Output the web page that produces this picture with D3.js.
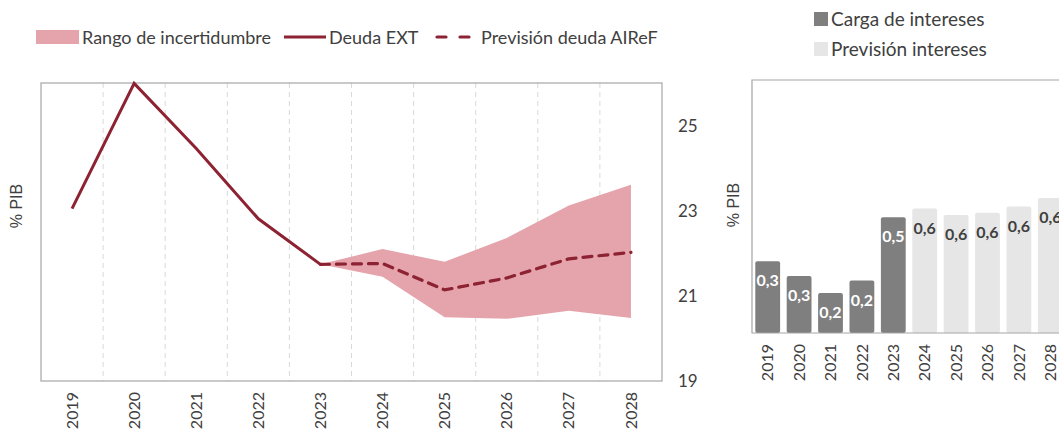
<!DOCTYPE html>
<html><head><meta charset="utf-8">
<script src="https://cdn.jsdelivr.net/npm/d3@7"></script>
<style>
body{margin:0;background:#fff;}
svg{display:block;}
text{font-family:Lato, "Open Sans", sans-serif;fill:#404040;}
</style></head>
<body><svg id="c" width="1059" height="433"></svg>
<script>
// ---- data ----
const years = ["2019","2020","2021","2022","2023","2024","2025","2026","2027","2028"];
const deudaYears = ["2019","2020","2021","2022","2023"];
const deudaEXT = [23.05, 25.99, 24.46, 22.81, 21.74];
const prevYears = ["2023","2024","2025","2026","2027","2028"];
const prevision = [21.74, 21.76, 21.14, 21.42, 21.87, 22.02];
const rangoAlto = [21.74, 22.10, 21.80, 22.36, 23.12, 23.61];
const rangoBajo = [21.74, 21.45, 20.50, 20.46, 20.65, 20.48];
const leftTicks = [19, 21, 23, 25];
const interesesYears = ["2019","2020","2021","2022","2023"];
const cargaIntereses = [0.34, 0.27, 0.19, 0.249, 0.549];
const prevInteresesYears = ["2024","2025","2026","2027","2028"];
const previsionIntereses = [0.59, 0.56, 0.57, 0.60, 0.64];

const svg = d3.select("#c");
const RED = "#8C2232", PINK = "#E5A3AB", DARK = "#7F7F7F", LIGHT = "#E6E6E6", BORDER = "#A6A6A6";

// ---------- LEFT CHART ----------
const L = {x0:41, x1:662, y0:83, y1:381};
const xL = d3.scaleBand().domain(years).range([L.x0, L.x1]);
const yL = d3.scaleLinear().domain([19, 26]).range([L.y1, L.y0]);
const cx = d => xL(d) + xL.bandwidth()/2;

// gridlines at band boundaries
const gl = svg.append("g");
years.slice(1).forEach(y => {
  gl.append("line").attr("x1", xL(y)).attr("x2", xL(y)).attr("y1", L.y0).attr("y2", L.y1)
    .attr("stroke", "#D9D9D9").attr("stroke-dasharray", "5,4").attr("stroke-width", 1);
});
svg.append("rect").attr("x", L.x0).attr("y", L.y0).attr("width", L.x1-L.x0).attr("height", L.y1-L.y0)
  .attr("fill", "none").attr("stroke", BORDER).attr("stroke-width", 1.2);

// band
const bandData = prevYears.map((y,i)=>({y, hi:rangoAlto[i], lo:rangoBajo[i]}));
svg.append("path").datum(bandData)
  .attr("d", d3.area().x(d=>cx(d.y)).y0(d=>yL(d.lo)).y1(d=>yL(d.hi)))
  .attr("fill", PINK);
// solid line
svg.append("path").datum(deudaYears.map((y,i)=>({y, v:deudaEXT[i]})))
  .attr("d", d3.line().x(d=>cx(d.y)).y(d=>yL(d.v)))
  .attr("fill","none").attr("stroke", RED).attr("stroke-width", 3);
// dashed line
svg.append("path").datum(prevYears.map((y,i)=>({y, v:prevision[i]})))
  .attr("d", d3.line().x(d=>cx(d.y)).y(d=>yL(d.v)))
  .attr("fill","none").attr("stroke", RED).attr("stroke-width", 3.2)
  .attr("stroke-dasharray","9,7").attr("stroke-linecap","round");

// right axis
const axR = svg.append("g").attr("transform", `translate(${L.x1},0)`)
  .call(d3.axisRight(yL).tickValues(leftTicks).tickFormat(d3.format("d")).tickSize(0).tickPadding(16));
axR.select(".domain").remove();
axR.selectAll("text").style("font-size","17px").style("font-family","Lato").attr("fill","#404040");

// x axis rotated
const axB = svg.append("g").attr("transform", `translate(0,${L.y1})`)
  .call(d3.axisBottom(xL).tickSize(0));
axB.select(".domain").remove();
axB.selectAll("text").style("font-size","16px").style("font-family","Lato").attr("fill","#404040")
  .attr("transform","rotate(-90)").attr("text-anchor","end").attr("x",-11).attr("y",0).attr("dy","0.35em");

svg.append("text").attr("transform","translate(22,206) rotate(-90)").attr("text-anchor","middle")
  .style("font-family","'Liberation Sans', Arial").style("font-size","16px").text("% PIB");

// legend left
const lg = svg.append("g").style("font-size","18px");
lg.append("rect").attr("x",36).attr("y",30).attr("width",43).attr("height",14).attr("fill",PINK);
lg.append("text").attr("x",82).attr("y",44).text("Rango de incertidumbre");
lg.append("line").attr("x1",284).attr("x2",326).attr("y1",37).attr("y2",37).attr("stroke",RED).attr("stroke-width",3);
lg.append("text").attr("x",329).attr("y",44).text("Deuda EXT");
lg.append("line").attr("x1",437).attr("x2",474).attr("y1",37).attr("y2",37).attr("stroke",RED).attr("stroke-width",3.2)
  .attr("stroke-dasharray","9,14").attr("stroke-linecap","round");
lg.append("text").attr("x",481).attr("y",44).text("Previsión deuda AIReF");

// ---------- RIGHT CHART ----------
const R = {x0:752, x1:1066, y0:80, y1:333};
const xR = d3.scaleBand().domain(years).range([R.x0, R.x1]).paddingInner(0.21).paddingOuter(0.105);
const yR = d3.scaleLinear().domain([0, 1.2]).range([R.y1, R.y0]);
const fmt = v => d3.format(".1f")(v).replace(".", ",");

const barsData = interesesYears.map((y,i)=>({y, v:cargaIntereses[i], c:DARK, t:"#fff"}))
  .concat(prevInteresesYears.map((y,i)=>({y, v:previsionIntereses[i], c:LIGHT, t:"#404040"})));
const bg = svg.append("g");
bg.selectAll("rect").data(barsData).join("rect")
  .attr("x", d=>xR(d.y)).attr("width", xR.bandwidth())
  .attr("y", d=>yR(d.v)).attr("height", d=>yR(0)-yR(d.v))
  .attr("rx",2).attr("fill", d=>d.c);
bg.selectAll("text").data(barsData).join("text")
  .attr("x", d=>xR(d.y)+xR.bandwidth()/2).attr("y", d=>yR(d.v)+25)
  .attr("text-anchor","middle").style("font-size","16px").style("font-weight","bold")
  .style("fill", d=>d.t).text(d=>fmt(d.v));

svg.append("path").attr("d", `M${R.x1},${R.y0}H${R.x0}V${R.y1}H${R.x1}`)
  .attr("fill","none").attr("stroke", BORDER).attr("stroke-width",1.2);

const axB2 = svg.append("g").attr("transform", `translate(0,${R.y1})`)
  .call(d3.axisBottom(xR).tickSize(0));
axB2.select(".domain").remove();
axB2.selectAll("text").style("font-size","16px").style("font-family","Lato").attr("fill","#404040")
  .attr("transform","rotate(-90)").attr("text-anchor","end").attr("x",-11).attr("y",0).attr("dy","0.35em");

svg.append("text").attr("transform","translate(739,205) rotate(-90)").attr("text-anchor","middle")
  .style("font-family","'Liberation Sans', Arial").style("font-size","16px").text("% PIB");

const lg2 = svg.append("g").style("font-size","19px");
lg2.append("rect").attr("x",814).attr("y",12).attr("width",14).attr("height",14).attr("fill",DARK);
lg2.append("text").attr("x",831).attr("y",26).text("Carga de intereses");
lg2.append("rect").attr("x",814).attr("y",42).attr("width",14).attr("height",14).attr("fill",LIGHT);
lg2.append("text").attr("x",831).attr("y",56).text("Previsión intereses");
</script></body></html>
